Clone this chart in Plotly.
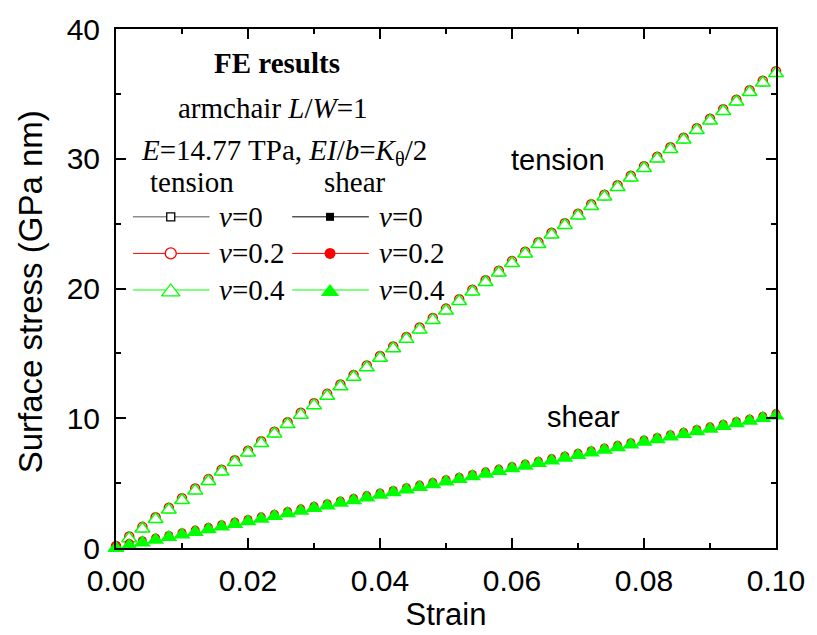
import plotly.graph_objects as go

# ---------------- data ----------------
strain = [0.000, 0.002, 0.004, 0.006, 0.008, 0.010, 0.012, 0.014, 0.016, 0.018,
          0.020, 0.022, 0.024, 0.026, 0.028, 0.030, 0.032, 0.034, 0.036, 0.038,
          0.040, 0.042, 0.044, 0.046, 0.048, 0.050, 0.052, 0.054, 0.056, 0.058,
          0.060, 0.062, 0.064, 0.066, 0.068, 0.070, 0.072, 0.074, 0.076, 0.078,
          0.080, 0.082, 0.084, 0.086, 0.088, 0.090, 0.092, 0.094, 0.096, 0.098,
          0.100]

tension_v04 = [0.00, 0.74, 1.48, 2.21, 2.95, 3.68, 4.42, 5.15, 5.88, 6.61,
               7.34, 8.07, 8.80, 9.53, 10.26, 10.99, 11.72, 12.45, 13.18, 13.91,
               14.64, 15.37, 16.10, 16.83, 17.56, 18.29, 19.02, 19.75, 20.48, 21.21,
               21.95, 22.68, 23.41, 24.14, 24.87, 25.61, 26.34, 27.07, 27.80, 28.53,
               29.27, 30.00, 30.73, 31.46, 32.19, 32.93, 33.66, 34.39, 35.12, 35.85,
               36.58]
tension_v02 = [0.15, 0.89, 1.63, 2.37, 3.11, 3.84, 4.58, 5.31, 6.04, 6.77,
               7.50, 8.23, 8.96, 9.69, 10.42, 11.15, 11.88, 12.61, 13.34, 14.07,
               14.80, 15.53, 16.26, 16.99, 17.72, 18.45, 19.18, 19.91, 20.64, 21.37,
               22.11, 22.84, 23.57, 24.30, 25.03, 25.77, 26.50, 27.23, 27.96, 28.69,
               29.43, 30.16, 30.89, 31.62, 32.35, 33.09, 33.82, 34.55, 35.28, 36.01,
               36.74]
tension_v0 = tension_v04[:]

shear_v04 = [0.00, 0.20, 0.41, 0.61, 0.82, 1.02, 1.22, 1.43, 1.63, 1.84,
             2.04, 2.24, 2.45, 2.65, 2.86, 3.06, 3.26, 3.47, 3.67, 3.88,
             4.08, 4.28, 4.49, 4.69, 4.90, 5.10, 5.30, 5.51, 5.71, 5.92,
             6.12, 6.32, 6.53, 6.73, 6.94, 7.14, 7.34, 7.55, 7.75, 7.96,
             8.16, 8.36, 8.57, 8.77, 8.98, 9.18, 9.38, 9.59, 9.79, 10.00,
             10.20]
shear_v02 = [0.15, 0.36, 0.56, 0.77, 0.97, 1.18, 1.38, 1.59, 1.79, 2.00,
             2.20, 2.40, 2.61, 2.81, 3.02, 3.22, 3.42, 3.63, 3.83, 4.04,
             4.24, 4.44, 4.65, 4.85, 5.06, 5.26, 5.46, 5.67, 5.87, 6.08,
             6.28, 6.48, 6.69, 6.89, 7.10, 7.30, 7.50, 7.71, 7.91, 8.12,
             8.32, 8.52, 8.73, 8.93, 9.14, 9.34, 9.54, 9.75, 9.95, 10.16,
             10.36]
shear_v0 = shear_v04[:]

x_ticks = [0.00, 0.02, 0.04, 0.06, 0.08, 0.10]
x_ticklabels = ["0.00", "0.02", "0.04", "0.06", "0.08", "0.10"]
y_ticks = [0, 10, 20, 30, 40]
y_ticklabels = ["0", "10", "20", "30", "40"]

BLACK = "#000000"
RED = "#FF0000"
GREEN = "#00FF00"
SANS = "Liberation Sans, Arial, sans-serif"
SERIF = "Liberation Serif, Times New Roman, serif"

fig = go.Figure()

# tension (open markers, white fill)
fig.add_trace(go.Scatter(x=strain, y=tension_v0, mode="markers", cliponaxis=False,
                         marker=dict(symbol="square", size=6, color="white",
                                     line=dict(color=BLACK, width=1.0)), showlegend=False))
fig.add_trace(go.Scatter(x=strain, y=tension_v02, mode="markers", cliponaxis=False,
                         marker=dict(symbol="circle", size=9, color="white",
                                     line=dict(color=RED, width=1.5)), showlegend=False))
fig.add_trace(go.Scatter(x=strain, y=tension_v04, mode="markers", cliponaxis=False,
                         marker=dict(symbol="triangle-up", size=13, color="white",
                                     line=dict(color=GREEN, width=1.5)), showlegend=False))
# shear (filled markers)
fig.add_trace(go.Scatter(x=strain, y=shear_v0, mode="markers", cliponaxis=False,
                         marker=dict(symbol="square", size=5, color=BLACK,
                                     line=dict(width=0)), showlegend=False))
fig.add_trace(go.Scatter(x=strain, y=shear_v02, mode="markers", cliponaxis=False,
                         marker=dict(symbol="circle", size=9, color=RED,
                                     line=dict(width=0)), showlegend=False))
fig.add_trace(go.Scatter(x=strain, y=shear_v04, mode="markers", cliponaxis=False,
                         marker=dict(symbol="triangle-up", size=15, color=GREEN,
                                     line=dict(width=0)), showlegend=False))

# ---------------- manual legend on pixel overlay axes ----------------
leg_rows = [213, 250, 287]
leg_labels = ["<i>v</i>=0", "<i>v</i>=0.2", "<i>v</i>=0.4"]
leg_colors = [BLACK, RED, GREEN]
leg_symbols = ["square", "circle", "triangle-up"]
leg_sizes = [8, 11, 16]
line_colors = ["#555555", RED, GREEN]
columns = [(133, 210, 171, 217, True), (293, 370, 331, 378, False)]

for x0, x1, xm, xt, is_open in columns:
    for yr, lab, col, sym, sz, lc in zip(leg_rows, leg_labels, leg_colors, leg_symbols, leg_sizes, line_colors):
        fig.add_trace(go.Scatter(x=[x0, x1], y=[yr, yr], mode="lines", xaxis="x2", yaxis="y2",
                                 line=dict(color=(lc if is_open else col), width=1),
                                 cliponaxis=False, showlegend=False, hoverinfo="skip"))
        if is_open:
            mk = dict(symbol=sym, size=sz, color="white", line=dict(color=col, width=1.3))
        else:
            mk = dict(symbol=sym, size=sz, color=col, line=dict(width=0))
        fig.add_trace(go.Scatter(x=[xm], y=[yr + (2 if sym == "triangle-up" else 0)], mode="markers",
                                 xaxis="x2", yaxis="y2", marker=mk,
                                 cliponaxis=False, showlegend=False, hoverinfo="skip"))
        fig.add_annotation(x=xt, y=yr, xref="x2", yref="y2", text=lab, showarrow=False,
                           xanchor="left", yanchor="middle",
                           font=dict(family=SERIF, size=29, color=BLACK))

header_texts = [
    (278, 57, "<b>FE results</b>"),
    (274, 103, "armchair <i>L</i>/<i>W</i>=1"),
    (285, 147, "<i>E</i>=14.77 TPa, <i>EI</i>/<i>b</i>=<i>K</i><sub>θ</sub>/2"),
    (192, 178, "tension"),
    (356, 178, "shear"),
]
for hx, hy, ht in header_texts:
    fig.add_annotation(x=hx, y=hy, xref="x2", yref="y2", text=ht, showarrow=False,
                       xanchor="center", yanchor="middle",
                       font=dict(family=SERIF, size=29, color=BLACK))

# y axis title (paper coordinates, relative to the plot area)
fig.add_annotation(x=(31 - 116) / 663, y=(548 - 289) / 525, xref="paper", yref="paper",
                   text="Surface stress (GPa nm)",
                   showarrow=False, textangle=-90, xanchor="center", yanchor="middle",
                   font=dict(family=SANS, size=33, color=BLACK))

# curve labels in data coordinates
fig.add_annotation(x=0.067, y=29.9, xref="x", yref="y", text="tension", showarrow=False,
                   font=dict(family=SANS, size=29, color=BLACK))
fig.add_annotation(x=0.0708, y=10.1, xref="x", yref="y", text="shear", showarrow=False,
                   font=dict(family=SANS, size=29, color=BLACK))

axis_common = dict(showgrid=False, zeroline=False, showline=True, linecolor=BLACK,
                   linewidth=2, mirror="ticks", ticks="inside", ticklen=10, tickwidth=1.5,
                   tickcolor=BLACK,
                   tickfont=dict(family=SANS, size=30, color=BLACK))

fig.update_layout(
    width=817, height=635,
    margin=dict(l=116, r=38, t=23, b=87),
    paper_bgcolor="white", plot_bgcolor="white",
    xaxis=dict(range=[0, 0.10], tickvals=x_ticks, ticktext=x_ticklabels,
               minor=dict(dtick=0.01, ticks="inside", ticklen=5, tickwidth=1.5, tickcolor=BLACK),
               title=dict(text="Strain", font=dict(family=SANS, size=31, color=BLACK), standoff=0),
               ticklabelstandoff=5, **axis_common),
    yaxis=dict(range=[0, 40], tickvals=y_ticks, ticktext=y_ticklabels,
               minor=dict(dtick=5, ticks="inside", ticklen=5, tickwidth=1.5, tickcolor=BLACK),
               ticklabelstandoff=8, **axis_common),
    xaxis2=dict(range=[116, 779], overlaying="x", visible=False, fixedrange=True),
    yaxis2=dict(range=[548, 23], overlaying="y", visible=False, fixedrange=True),
    showlegend=False,
)

fig.write_html("out.html")
